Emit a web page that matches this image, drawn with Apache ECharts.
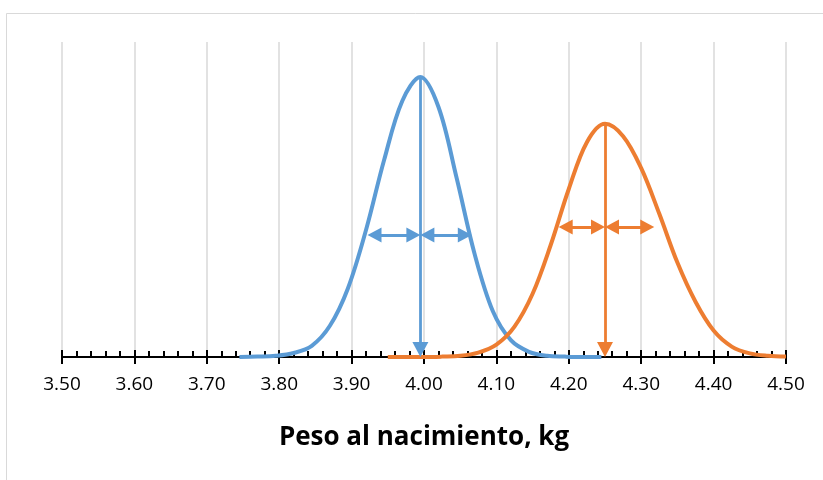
<!DOCTYPE html>
<html>
<head>
<meta charset="utf-8">
<script src="https://cdn.jsdelivr.net/npm/echarts@6/dist/echarts.min.js"></script>
<style>
html,body{margin:0;padding:0;background:#fff;}
#c{width:823px;height:480px;}
</style>
</head>
<body>
<div id="c"></div>
<script>
// Blue curve
const blueX = [3.745,3.770,3.795,3.820,3.845,3.870,3.895,3.920,3.945,3.970,3.995,4.020,4.045,4.070,4.095,4.120,4.145,4.170,4.195,4.220,4.245];
const blueY = [0,0.01,0.03,0.10,0.28,0.78,1.72,3.18,4.93,6.40,7.00,6.25,4.48,2.57,1.15,0.42,0.13,0.03,0.01,0,0];
// Orange curve
const orangeX = [3.950,3.975,4.000,4.025,4.050,4.075,4.100,4.125,4.150,4.175,4.200,4.225,4.250,4.275,4.300,4.325,4.350,4.375,4.400,4.425,4.450,4.475,4.500];
const orangeY = [0,0,0,0.01,0.03,0.11,0.31,0.76,1.58,2.80,4.20,5.37,5.83,5.52,4.72,3.58,2.36,1.38,0.66,0.26,0.09,0.03,0.01];
// Markers: mean, peak, arrow level, left and right ends of the spread arrows
const blueMarks = [3.995, 7.00, 3.05, 3.922, 4.066];
const orangeMarks = [4.250, 5.83, 3.25, 4.186, 4.318];
const xTicks = [3.5, 4.5, 0.1];
const axisTitle = 'Peso al nacimiento, kg';

const BLUE = '#5B9BD5', ORANGE = '#ED7D31';
const Y_MAX = 7.875;
const GRID = {left: 62, right: 37, top: 42, bottom: 123};
const plotW = 823 - GRID.left - GRID.right, plotH = 480 - GRID.top - GRID.bottom;
const HEAD_H = 14, HEAD_V = 15; // arrowhead lengths in px
const hx = (HEAD_H / 2) * (xTicks[1] - xTicks[0]) / plotW;
const vy = (HEAD_V / 2) * Y_MAX / plotH;
const pairs = (xs, ys) => xs.map((x, i) => [x, ys[i]]);

function marks(m) {
  const [mean, peak, lvl, lo, hi] = m;
  return {
    silent: true,
    animation: false,
    label: {show: false},
    symbol: ['triangle', 'triangle'],
    symbolSize: [15, HEAD_H],
    lineStyle: {type: 'solid', width: 3.2},
    emphasis: {disabled: true},
    data: [
      [{coord: [mean, peak], symbol: 'none', lineStyle: {width: 2.8}}, {coord: [mean, vy], symbol: 'triangle', symbolSize: [16, HEAD_V]}],
      [{coord: [lo + hx, lvl]}, {coord: [mean - hx, lvl]}],
      [{coord: [mean + hx, lvl]}, {coord: [hi - hx, lvl]}]
    ]
  };
}

const chart = echarts.init(document.getElementById('c'), null, {renderer: 'canvas'});
chart.setOption({
  animation: false,
  backgroundColor: '#fff',
  graphic: [{
    type: 'rect', silent: true, z: -10,
    shape: {x: 6.5, y: 13.5, width: 900, height: 600},
    style: {fill: 'none', stroke: '#D9D9D9', lineWidth: 1}
  }],
  grid: Object.assign({containLabel: false}, GRID),
  xAxis: [{
    type: 'value', min: xTicks[0], max: xTicks[1], interval: xTicks[2],
    position: 'bottom',
    name: axisTitle, nameLocation: 'middle', nameGap: 68,
    nameTextStyle: {fontFamily: 'Open Sans', fontWeight: 'bold', fontSize: 26, color: '#000'},
    axisLine: {show: true, onZero: false, lineStyle: {color: '#000', width: 2.2}},
    axisTick: {show: true, inside: true, length: 7, lineStyle: {color: '#000', width: 2}},
    minorTick: {show: true, splitNumber: 5, length: 6, lineStyle: {color: '#000', width: 2}},
    splitLine: {show: true, lineStyle: {color: '#D9D9D9', width: 1.5}},
    axisLabel: {fontFamily: 'Open Sans', fontSize: 19, color: '#000', margin: 18,
      formatter: v => v.toFixed(2)}
  }, {
    type: 'value', min: xTicks[0], max: xTicks[1], interval: xTicks[2],
    position: 'bottom', offset: 0,
    axisLine: {show: false, onZero: false},
    axisTick: {show: true, inside: false, length: 7, lineStyle: {color: '#000', width: 2}},
    splitLine: {show: false},
    axisLabel: {show: false}
  }],
  yAxis: {type: 'value', min: 0, max: Y_MAX, show: false, splitLine: {show: false}},
  series: [{
    type: 'line', xAxisIndex: 0, data: pairs(blueX, blueY),
    smooth: 0.35, showSymbol: false, symbol: 'none',
    lineStyle: {color: BLUE, width: 4}, itemStyle: {color: BLUE},
    markLine: marks(blueMarks), z: 3
  }, {
    type: 'line', xAxisIndex: 0, data: pairs(orangeX, orangeY),
    smooth: 0.35, showSymbol: false, symbol: 'none',
    lineStyle: {color: ORANGE, width: 4}, itemStyle: {color: ORANGE},
    markLine: marks(orangeMarks), z: 4
  }]
});
</script>
</body>
</html>
